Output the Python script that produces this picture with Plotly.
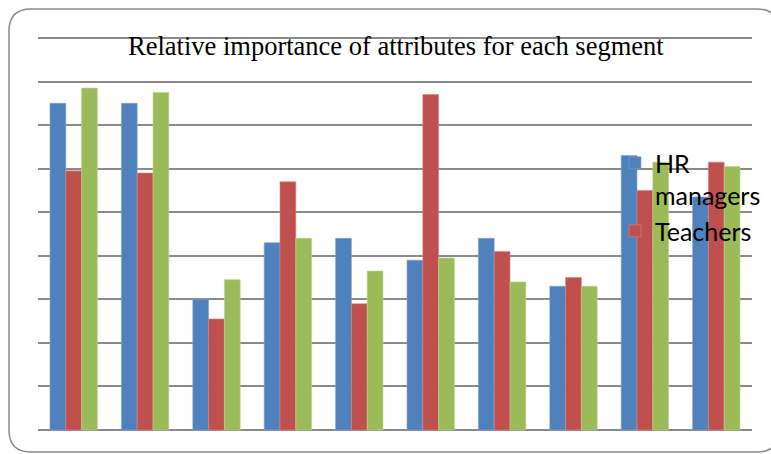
import plotly.graph_objects as go

# ---- data (relative importance, %) ----
categories = ["Attr 1", "Attr 2", "Attr 3", "Attr 4", "Attr 5",
              "Attr 6", "Attr 7", "Attr 8", "Attr 9", "Attr 10"]
hr_managers = [15.0, 15.0, 6.0, 8.6, 8.8, 7.8, 8.8, 6.6, 12.6, 10.7]
teachers = [11.9, 11.8, 5.1, 11.4, 5.8, 15.4, 8.2, 7.0, 11.0, 12.3]
third_segment = [15.7, 15.5, 6.9, 8.8, 7.3, 7.9, 6.8, 6.6, 12.3, 12.1]
title_text = "Relative importance of attributes for each segment"

W, H = 771, 454
ML, MR, MT, MB = 38, 19, 36, 22
PW, PH = W - ML - MR, H - MT - MB
# y value range padded so that 0 sits at y=430 px and 18 at y=38 px
UNIT = (430 - 38) / 18.0
PAD = 2 / UNIT
YR = [0 - PAD, 18 + PAD]


def px_to_paper(x, y):
    return (x - ML) / PW, (H - MB - y) / PH


def rounded_rect(x0, y0, x1, y1, r):
    def P(x, y):
        px, py = px_to_paper(x, y)
        return f"{px:.5f},{py:.5f}"
    return (f"M {P(x0 + r, y0)} L {P(x1 - r, y0)} Q {P(x1, y0)} {P(x1, y0 + r)} "
            f"L {P(x1, y1 - r)} Q {P(x1, y1)} {P(x1 - r, y1)} "
            f"L {P(x0 + r, y1)} Q {P(x0, y1)} {P(x0, y1 - r)} "
            f"L {P(x0, y0 + r)} Q {P(x0, y0)} {P(x0 + r, y0)} Z")


fig = go.Figure()
fig.add_trace(go.Bar(x=categories, y=hr_managers, name="HR<br>managers",
                     marker=dict(color="#4F81BD", line=dict(color="#7FA3D0", width=0.6))))
fig.add_trace(go.Bar(x=categories, y=teachers, name="Teachers",
                     marker=dict(color="#C0504D", line=dict(color="#D58583", width=0.6))))
fig.add_trace(go.Bar(x=categories, y=third_segment, name="Other", showlegend=False,
                     marker=dict(color="#9BBB59", line=dict(color="#BDD38F", width=0.6))))

fig.update_layout(
    width=W, height=H,
    margin=dict(l=ML, r=MR, t=MT, b=MB, pad=0, autoexpand=False),
    paper_bgcolor="white", plot_bgcolor="white",
    barmode="group", bargap=0.336, bargroupgap=0,
    showlegend=True,
    legend=dict(x=(615 - ML) / PW, y=(H - MB - 140) / PH, xanchor="left", yanchor="top",
                bgcolor="rgba(0,0,0,0)", font=dict(family="Lato", size=25, color="black"),
                valign="top", tracegroupgap=0, itemwidth=30),
    xaxis=dict(showticklabels=False, showgrid=False, zeroline=False, showline=False, ticks=""),
    yaxis=dict(range=YR, dtick=2, tick0=0, showticklabels=False, showgrid=True,
               gridcolor="#8a8a8a", gridwidth=1.6, zeroline=False, showline=False, ticks=""),
    annotations=[dict(text=title_text, xref="paper", yref="paper",
                      x=(396 - ML) / PW, y=(H - MB - 46) / PH, xanchor="center", yanchor="middle",
                      showarrow=False,
                      font=dict(family="Liberation Serif", size=26.5, color="black"))],
    shapes=[dict(type="path", xref="paper", yref="paper",
                 path=rounded_rect(9, 9, 779, 452, 22),
                 line=dict(color="#8a8a8a", width=1.5), fillcolor="rgba(0,0,0,0)",
                 layer="above")],
)

fig.write_html("out.html")
